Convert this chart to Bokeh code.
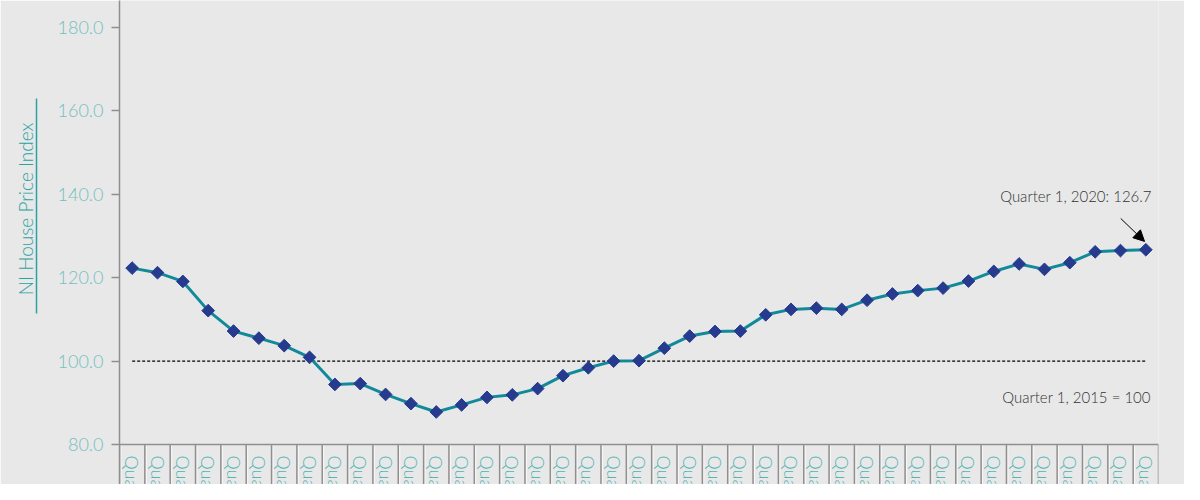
import math
from bokeh.plotting import figure
from bokeh.models import (Range1d, LinearAxis, FixedTicker, ColumnDataSource, Span,
                          Label, Arrow, NormalHead, PrintfTickFormatter)
from bokeh.core.properties import value
from bokeh.embed import file_html
from bokeh.resources import INLINE

# ---- data ----
quarters = [f"Quarter {q}, {y}" for y in range(2010, 2021) for q in (1, 2, 3, 4)][:41]
hpi = [122.3, 121.2, 119.1, 112.1, 107.2, 105.5, 103.7, 100.9, 94.4, 94.6,
       92.0, 89.8, 87.8, 89.5, 91.3, 91.9, 93.4, 96.5, 98.4, 100.0,
       100.1, 103.1, 106.0, 107.1, 107.2, 111.1, 112.4, 112.7, 112.4, 114.6,
       116.1, 116.9, 117.5, 119.2, 121.5, 123.3, 122.0, 123.6, 126.2, 126.5,
       126.7]
y_ticks = [80, 100, 120, 140, 160, 180]
base_value = 100
latest_label = "Quarter 1, 2020: 126.7"
base_label = "Quarter 1, 2015 = 100"
y_title = "NI House Price Index"

FONT = "'Lato Light', 'Liberation Sans', sans-serif"
BG = "#e8e8e8"
TEAL_TICK = "#72c0c0"
TEAL_X = "#55b4b4"
TEAL_TITLE = "#2aa3a3"
LINE = "#12899a"
MARK = "#263a8e"
GRAY = "#8f8f8f"

n = len(hpi)
idx = list(range(n))
W, H = 1184, 484
LEFT, RIGHT = 119, 26
Y_MIN, Y_MAX = 80, 186.47
STRIP_PX = 40                      # height of the category-label strip below the axis
PX_PER_UNIT = (H - STRIP_PX) / (Y_MAX - Y_MIN)
PX_PER_CAT = (W - LEFT - RIGHT) / n
Y_BOTTOM = Y_MIN - STRIP_PX / PX_PER_UNIT
LABEL_Y = Y_MIN - 11 / PX_PER_UNIT

p = figure(width=W, height=H, output_backend="svg", toolbar_location=None,
           x_range=Range1d(-0.5, n - 0.5), y_range=Range1d(Y_BOTTOM, Y_MAX),
           x_axis_type=None, y_axis_type=None,
           min_border_left=LEFT, min_border_right=RIGHT, min_border_top=0, min_border_bottom=0)
p.background_fill_color = BG
p.border_fill_color = BG
p.outline_line_color = None
p.grid.visible = False

# main y axis
yax = LinearAxis(ticker=FixedTicker(ticks=y_ticks, minor_ticks=[]),
                 formatter=PrintfTickFormatter(format="%.1f"))
yax.axis_line_color = GRAY
yax.axis_line_width = 1.5
yax.major_tick_line_color = GRAY
yax.major_tick_line_width = 1.5
yax.major_tick_out = 8
yax.major_tick_in = 0
yax.major_label_standoff = 8
yax.major_label_text_font = FONT
yax.major_label_text_font_size = "18px"
yax.major_label_text_color = TEAL_TICK
yax.axis_label = " "
yax.axis_label_text_font_size = "12px"
yax.axis_label_standoff = 1
p.add_layout(yax, "left")

# title axis with underline (axis line limited by bounds); leading no-break spaces
# lift the centred title to where the reference places it
tax = LinearAxis(ticker=FixedTicker(ticks=[], minor_ticks=[]), bounds=(111.5, 163.0))
tax.axis_line_color = TEAL_TITLE
tax.axis_line_width = 1.5
tax.major_label_text_font_size = "0px"
tax.major_tick_out = 0
tax.major_tick_in = 0
tax.axis_label = "\u00a0" * 13 + y_title
tax.axis_label_text_font = FONT
tax.axis_label_text_font_size = "19px"
tax.axis_label_text_font_style = "normal"
tax.axis_label_text_color = TEAL_TITLE
tax.axis_label_standoff = 0
p.add_layout(tax, "left")

# x axis line and category dividers (grey rule with a light edge)
p.add_layout(Span(location=Y_MIN, dimension="width", line_color=GRAY, line_width=1.5))
bounds = [i - 0.5 for i in range(n + 1)]
hi = [b + 1.5 / PX_PER_CAT for b in bounds]
p.segment(x0=hi, y0=[Y_MIN] * len(hi), x1=hi, y1=[Y_BOTTOM] * len(hi),
          line_color="white", line_width=1, line_alpha=0.7)
p.segment(x0=bounds, y0=[Y_MIN] * len(bounds), x1=bounds, y1=[Y_BOTTOM] * len(bounds),
          line_color=GRAY, line_width=1.5)

# baseline
p.line(x=[idx[0], idx[-1]], y=[base_value, base_value], line_color="black",
       line_width=1.3, line_dash="3 2")

src = ColumnDataSource(dict(x=idx, y=hpi, q=quarters, ly=[LABEL_Y] * n))
p.line("x", "y", source=src, line_color=LINE, line_width=3)
p.scatter("x", "y", source=src, marker="square", angle=math.pi / 4, size=9,
          fill_color=MARK, line_color=MARK, line_width=1)

# category labels, rotated, reading downward
p.text(x="x", y="ly", text="q", source=src, angle=-math.pi / 2,
       text_align="left", text_baseline="middle", text_font=value(FONT),
       text_font_size="18px", text_color=TEAL_X)

# annotations
p.add_layout(Label(x=idx[-1], y=hpi[-1], text=latest_label, x_offset=6, y_offset=54,
                   text_align="right", text_baseline="middle", text_font=FONT,
                   text_font_size="15px", text_color="#333333"))
p.add_layout(Label(x=idx[-1], y=base_value, text=base_label, x_offset=5, y_offset=-36,
                   text_align="right", text_baseline="middle", text_font=FONT,
                   text_font_size="15px", text_color="#333333"))
p.add_layout(Arrow(end=NormalHead(size=11, fill_color="black", line_color="black"),
                   x_start=idx[-1] - 0.99, y_start=hpi[-1] + 7.5,
                   x_end=idx[-1] - 0.05, y_end=hpi[-1] + 2.0,
                   line_color="black", line_width=1))

open("out.html", "w").write(file_html(p, INLINE))
